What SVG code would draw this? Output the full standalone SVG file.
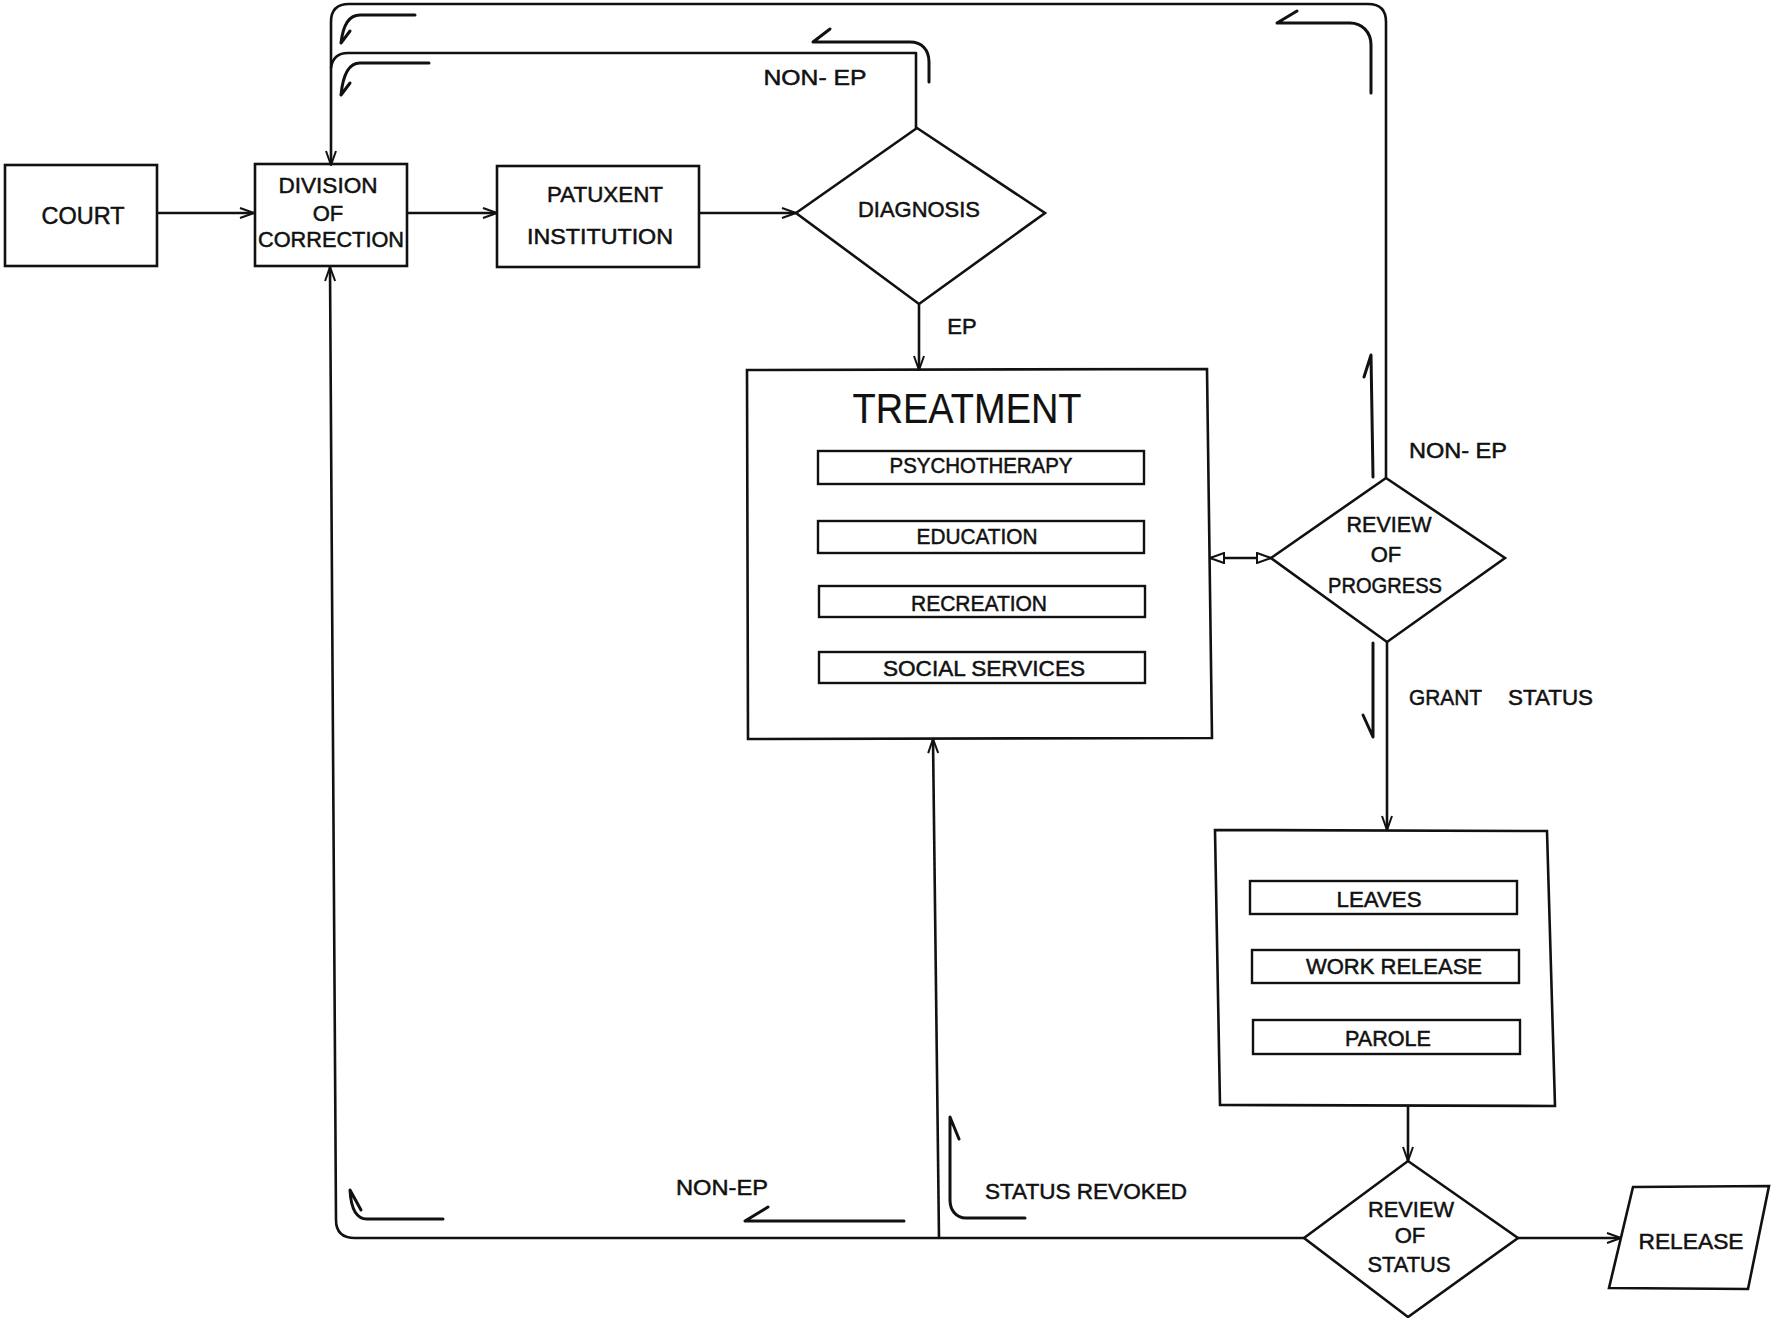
<svg xmlns="http://www.w3.org/2000/svg" width="1771" height="1318" viewBox="0 0 1771 1318">
<style>
.bg{fill:#fff}
.box{fill:none;stroke:#111;stroke-width:2.6;stroke-linejoin:miter}
.sub{fill:none;stroke:#111;stroke-width:2.4}
.ln{fill:none;stroke:#111;stroke-width:2.6;stroke-linejoin:round}
.ind{fill:none;stroke:#111;stroke-width:3;stroke-linecap:round;stroke-linejoin:round}
text{font-family:"Liberation Sans",Arial,sans-serif;font-size:22px;fill:#111;stroke:#111;stroke-width:0.5;text-anchor:middle}
.big{font-size:43px;stroke-width:0.2}
.lab{text-anchor:start}
</style>
<defs>
<marker id="arr" viewBox="0 0 16 12" refX="15" refY="6" markerWidth="16" markerHeight="12" markerUnits="userSpaceOnUse" orient="auto">
<path d="M1,1 L15,6 L1,11 M4,6 L15,6" fill="none" stroke="#111" stroke-width="2"/>
</marker>
<marker id="tri" viewBox="0 0 16 12" refX="15" refY="6" markerWidth="16" markerHeight="12" markerUnits="userSpaceOnUse" orient="auto-start-reverse">
<path d="M1,1 L15,6 L1,11 Z" fill="#fff" stroke="#111" stroke-width="2"/>
</marker>
</defs>
<rect class="bg" x="0" y="0" width="1771" height="1318"/>

<g id="connectors">
<path class="ln" d="M157,213 H254" marker-end="url(#arr)"/>
<path class="ln" d="M407,213 H497" marker-end="url(#arr)"/>
<path class="ln" d="M699,213 H796" marker-end="url(#arr)"/>
<path class="ln" d="M919,304 V370" marker-end="url(#arr)"/>
<path class="ln" d="M916,128 V53 H348 Q333,53 331,68"/>
<path class="ln" d="M1386,478 V22 Q1386,4 1368,4 H349 Q331,4 331,22 V165" marker-end="url(#arr)"/>
<path class="ln" d="M1210,558 H1271" marker-start="url(#tri)" marker-end="url(#tri)"/>
<path class="ln" d="M1387,642 V830" marker-end="url(#arr)"/>
<path class="ln" d="M1408,1106 V1161" marker-end="url(#arr)"/>
<path class="ln" d="M1518,1238 H1621" marker-end="url(#arr)"/>
<path class="ln" d="M1304,1238 H355 Q336,1238 336,1220 L330,267" marker-end="url(#arr)"/>
<path class="ln" d="M939,1238 L933,739" marker-end="url(#arr)"/>
<!-- flow direction indicators -->
<path class="ind" d="M415,15 H360 C349,15 343,25 341,43 L350,31"/>
<path class="ind" d="M429,63 H360 C349,63 343,74 341,95 L350,83"/>
<path class="ind" d="M929,82 V62 C929,50 922,42 910,42 H813 L830,29"/>
<path class="ind" d="M1371,93 V45 C1371,32 1362,23 1350,23 H1277 L1297,11"/>
<path class="ind" d="M1364,377 L1371,355 L1373,477"/>
<path class="ind" d="M1373,643 V737 L1363,715"/>
<path class="ind" d="M443,1219 H367 C357,1219 351,1210 350,1190 L361,1210"/>
<path class="ind" d="M904,1221 H745 L768,1207"/>
<path class="ind" d="M1025,1218 H966 C956,1218 950,1210 950,1200 V1117 L959,1139"/>
</g>

<g id="court">
<rect class="box" x="5" y="165" width="152" height="101"/>
<text x="83" y="224" textLength="83" lengthAdjust="spacingAndGlyphs" style="font-size:24px">COURT</text>
</g>

<g id="division">
<rect class="box" x="255" y="164" width="152" height="102"/>
<text x="328" y="193" textLength="99" lengthAdjust="spacingAndGlyphs">DIVISION</text>
<text x="328" y="221">OF</text>
<text x="331" y="247" textLength="146" lengthAdjust="spacingAndGlyphs">CORRECTION</text>
</g>

<g id="patuxent">
<rect class="box" x="497" y="166" width="202" height="101"/>
<text x="605" y="202" textLength="116" lengthAdjust="spacingAndGlyphs">PATUXENT</text>
<text x="600" y="244" textLength="146" lengthAdjust="spacingAndGlyphs">INSTITUTION</text>
</g>

<g id="diagnosis">
<polygon class="box" points="796,213 917,128 1045,213 919,304"/>
<text x="919" y="217" textLength="122" lengthAdjust="spacingAndGlyphs">DIAGNOSIS</text>
</g>

<g id="treatment">
<polygon class="box" points="747,370 1207,369 1212,738 748,739"/>
<text class="big" x="967" y="423" textLength="229" lengthAdjust="spacingAndGlyphs">TREATMENT</text>
<rect class="sub" x="818" y="451" width="326" height="33"/>
<text x="981" y="473" textLength="183" lengthAdjust="spacingAndGlyphs">PSYCHOTHERAPY</text>
<rect class="sub" x="818" y="521" width="326" height="32"/>
<text x="977" y="544" textLength="121" lengthAdjust="spacingAndGlyphs">EDUCATION</text>
<rect class="sub" x="819" y="586" width="326" height="31"/>
<text x="979" y="611" textLength="136" lengthAdjust="spacingAndGlyphs">RECREATION</text>
<rect class="sub" x="819" y="652" width="326" height="31"/>
<text x="984" y="676" textLength="202" lengthAdjust="spacingAndGlyphs">SOCIAL SERVICES</text>
</g>

<g id="review-progress">
<polygon class="box" points="1271,558 1386,478 1505,558 1387,642"/>
<text x="1389" y="532" textLength="85" lengthAdjust="spacingAndGlyphs">REVIEW</text>
<text x="1386" y="562">OF</text>
<text x="1385" y="593" textLength="114" lengthAdjust="spacingAndGlyphs">PROGRESS</text>
</g>

<g id="status-options">
<polygon class="box" points="1215,830 1547,831 1555,1106 1220,1105"/>
<rect class="sub" x="1250" y="881" width="267" height="33"/>
<text x="1379" y="907" textLength="85" lengthAdjust="spacingAndGlyphs">LEAVES</text>
<rect class="sub" x="1252" y="950" width="267" height="33"/>
<text x="1394" y="974" textLength="176" lengthAdjust="spacingAndGlyphs">WORK RELEASE</text>
<rect class="sub" x="1253" y="1020" width="267" height="34"/>
<text x="1388" y="1046" textLength="86" lengthAdjust="spacingAndGlyphs">PAROLE</text>
</g>

<g id="review-status">
<polygon class="box" points="1304,1238 1408,1161 1518,1238 1408,1317"/>
<text x="1411" y="1217" textLength="86" lengthAdjust="spacingAndGlyphs">REVIEW</text>
<text x="1410" y="1243">OF</text>
<text x="1409" y="1272" textLength="83" lengthAdjust="spacingAndGlyphs">STATUS</text>
</g>

<g id="release">
<polygon class="box" points="1633,1187 1769,1186 1748,1289 1609,1288"/>
<text x="1691" y="1249" textLength="105" lengthAdjust="spacingAndGlyphs">RELEASE</text>
</g>

<g id="labels">
<text x="815" y="85" textLength="103" lengthAdjust="spacingAndGlyphs">NON- EP</text>
<text x="962" y="334">EP</text>
<text x="1458" y="458" textLength="98" lengthAdjust="spacingAndGlyphs">NON- EP</text>
<text class="lab" x="1409" y="705" textLength="73" lengthAdjust="spacingAndGlyphs">GRANT</text>
<text class="lab" x="1508" y="705" textLength="85" lengthAdjust="spacingAndGlyphs">STATUS</text>
<text x="722" y="1195" textLength="92" lengthAdjust="spacingAndGlyphs">NON-EP</text>
<text class="lab" x="985" y="1199" textLength="202" lengthAdjust="spacingAndGlyphs">STATUS  REVOKED</text>
</g>
</svg>
